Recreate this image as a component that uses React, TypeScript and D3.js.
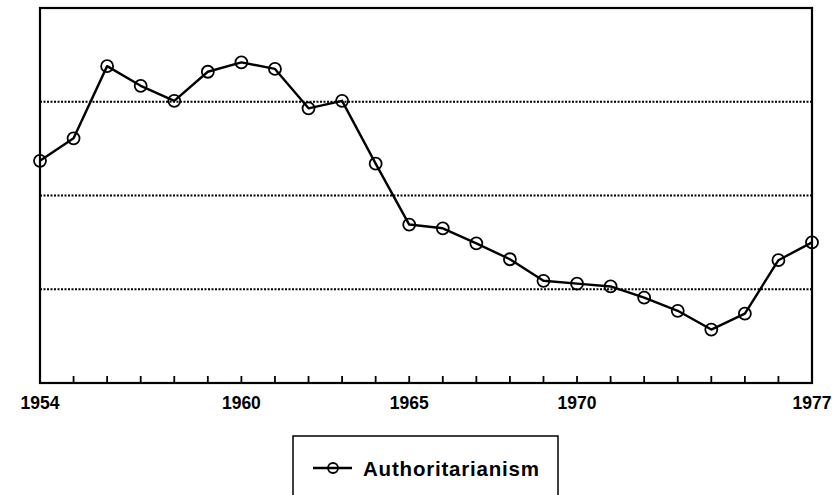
import React from "react";
import * as d3 from "d3";

// years on the x axis, one point per year
const years = d3.range(1954, 1978);
const authoritarianism = [
  2.37, 2.61, 3.38, 3.17, 3.01, 3.32, 3.42, 3.35, 2.93, 3.01, 2.34, 1.69,
  1.65, 1.49, 1.32, 1.09, 1.06, 1.03, 0.91, 0.77, 0.57, 0.74, 1.31, 1.5,
];
const tickLabels = [1954, 1960, 1965, 1970, 1977];
const gridValues = [1, 2, 3];

export default function App() {
  const width = 832;
  const height = 495;
  const margin = { left: 40, right: 20, top: 8, bottom: 112 };

  const x = d3
    .scaleLinear()
    .domain([1954, 1977])
    .range([margin.left, width - margin.right]);
  const y = d3
    .scaleLinear()
    .domain([0, 4])
    .range([height - margin.bottom, margin.top]);

  const y0 = y(0);
  const line = d3
    .line<number>()
    .x((_, i) => x(years[i]))
    .y((d) => y(d));

  const font = "'Liberation Sans', Arial, sans-serif";

  return (
    <svg
      width={width}
      height={height}
      style={{ position: "absolute", left: 0, top: 0, background: "#fff" }}
    >
      {/* dotted grid */}
      {gridValues.map((g) => (
        <line
          key={g}
          x1={x(1954)}
          x2={x(1977)}
          y1={y(g)}
          y2={y(g)}
          stroke="#000"
          strokeWidth={2}
          strokeDasharray="2,1.5"
        />
      ))}

      {/* frame */}
      <rect
        x={x(1954)}
        y={y(4)}
        width={x(1977) - x(1954)}
        height={y0 - y(4)}
        fill="none"
        stroke="#000"
        strokeWidth={2.2}
      />

      {/* inward ticks */}
      {years.slice(1, -1).map((yr) => (
        <line
          key={yr}
          x1={x(yr)}
          x2={x(yr)}
          y1={y0}
          y2={y0 - 7}
          stroke="#000"
          strokeWidth={1.8}
        />
      ))}

      {tickLabels.map((t) => (
        <text
          key={t}
          x={x(t)}
          y={409}
          textAnchor="middle"
          fontFamily={font}
          fontWeight="bold"
          fontSize={17.5}
          fill="#000"
        >
          {t}
        </text>
      ))}

      <path
        d={line(authoritarianism) || ""}
        fill="none"
        stroke="#000"
        strokeWidth={2.4}
        strokeLinejoin="round"
      />
      {authoritarianism.map((v, i) => (
        <circle
          key={i}
          cx={x(years[i])}
          cy={y(v)}
          r={6}
          fill="none"
          stroke="#000"
          strokeWidth={1.8}
        />
      ))}

      {/* legend */}
      <rect
        x={293}
        y={436}
        width={265}
        height={70}
        fill="#fff"
        stroke="#000"
        strokeWidth={1.5}
      />
      <line x1={313} x2={352} y1={468} y2={468} stroke="#000" strokeWidth={2.4} />
      <circle cx={333} cy={468} r={5} fill="none" stroke="#000" strokeWidth={1.8} />
      <text
        x={363}
        y={476}
        fontFamily={font}
        fontWeight="bold"
        fontSize={20.5}
        letterSpacing={0.8}
        fill="#000"
      >
        Authoritarianism
      </text>
    </svg>
  );
}
